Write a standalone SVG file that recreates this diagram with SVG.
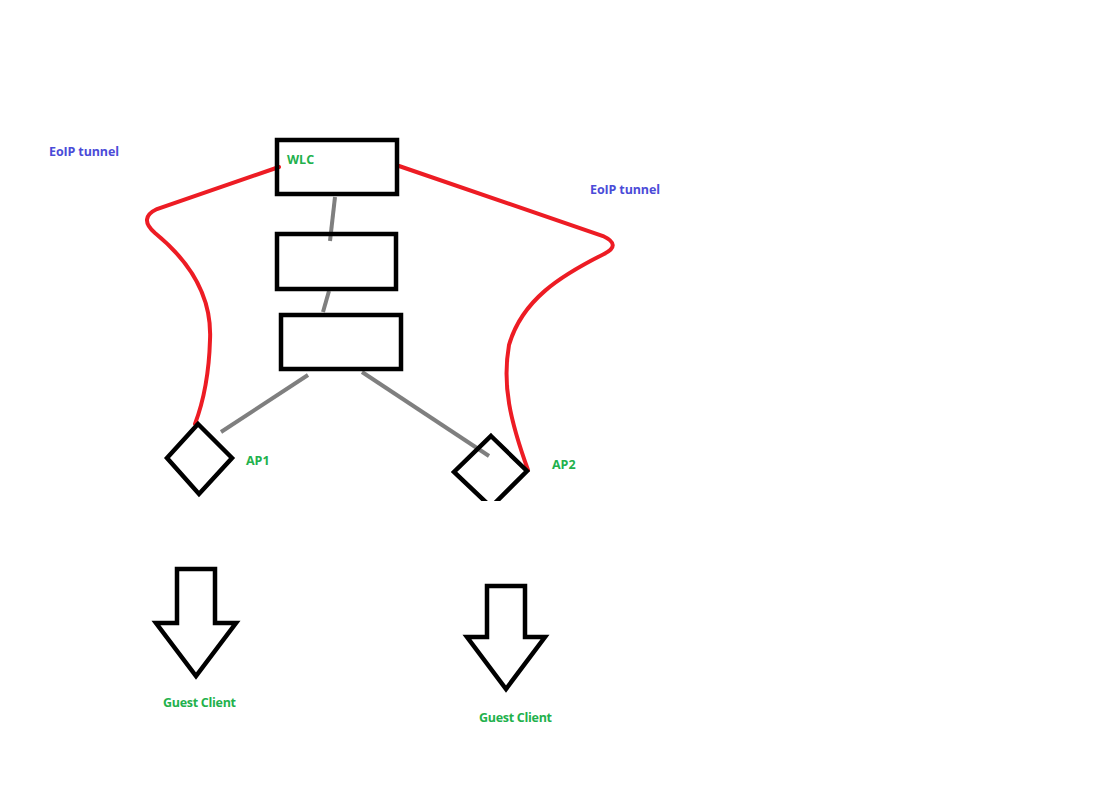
<svg xmlns="http://www.w3.org/2000/svg" width="1100" height="805" viewBox="0 0 1100 805">
<style>
.box{fill:none;stroke:#000;stroke-width:4.5}
.shape{fill:none;stroke:#000;stroke-width:4.5;stroke-linejoin:miter}
.link{stroke:#7f7f7f;stroke-width:4;fill:none}
.tun{stroke:#ed1c24;stroke-width:4;fill:none;stroke-linecap:round}
.lbl{font-family:"Open Sans","Liberation Sans",sans-serif;font-weight:bold;font-size:12.5px}
.g{fill:#22b14c}
.b{fill:#4b4bd8}
</style>
<defs>
<clipPath id="cut"><rect x="0" y="0" width="1100" height="501"/></clipPath>
</defs>
<rect width="1100" height="805" fill="#fff"/>
<g id="connectors">
<line class="link" x1="335" y1="197" x2="330" y2="241"/>
<line class="link" x1="329" y1="291" x2="323" y2="312"/>
<line class="link" x1="308" y1="375" x2="221" y2="432"/>
<line class="link" x1="362" y1="372" x2="489" y2="456"/>
<path class="tun" d="M279,167 L157,209 Q138,218 155,233 C193,264 212,300 210,340 C209,375 204,400 195,424"/>
<path class="tun" d="M399,166 L603,236 Q622,245 604,254 C560,276 522,300 509,345 C502,385 510,420 528,470"/>
</g>
<g id="wlc">
<rect class="box" x="277" y="140" width="120" height="54"/>
<text class="lbl g" x="287" y="164">WLC</text>
</g>
<g id="switch1">
<rect class="box" x="277" y="234" width="119" height="55"/>
</g>
<g id="switch2">
<rect class="box" x="281" y="315" width="120" height="54"/>
</g>
<g id="ap1">
<polygon class="shape" points="198,424 232,458 199,494 167,458"/>
<text class="lbl g" x="246" y="465">AP1</text>
</g>
<g id="ap2">
<polygon class="shape" clip-path="url(#cut)" points="491,436 527,471 491,507 454,472"/>
<text class="lbl g" x="552" y="469">AP2</text>
</g>
<g id="client1">
<polygon class="shape" points="177,569 215,569 215,623 236,623 196,676 156,623 177,623"/>
<text class="lbl g" x="163" y="707" textLength="73">Guest Client</text>
</g>
<g id="client2">
<polygon class="shape" points="487,586 525,586 525,637 545,637 506,689 467,637 487,637"/>
<text class="lbl g" x="479" y="722" textLength="73">Guest Client</text>
</g>
<g id="tunnel-labels">
<text class="lbl b" x="49" y="156" textLength="70">EoIP tunnel</text>
<text class="lbl b" x="590" y="194" textLength="70">EoIP tunnel</text>
</g>
</svg>
